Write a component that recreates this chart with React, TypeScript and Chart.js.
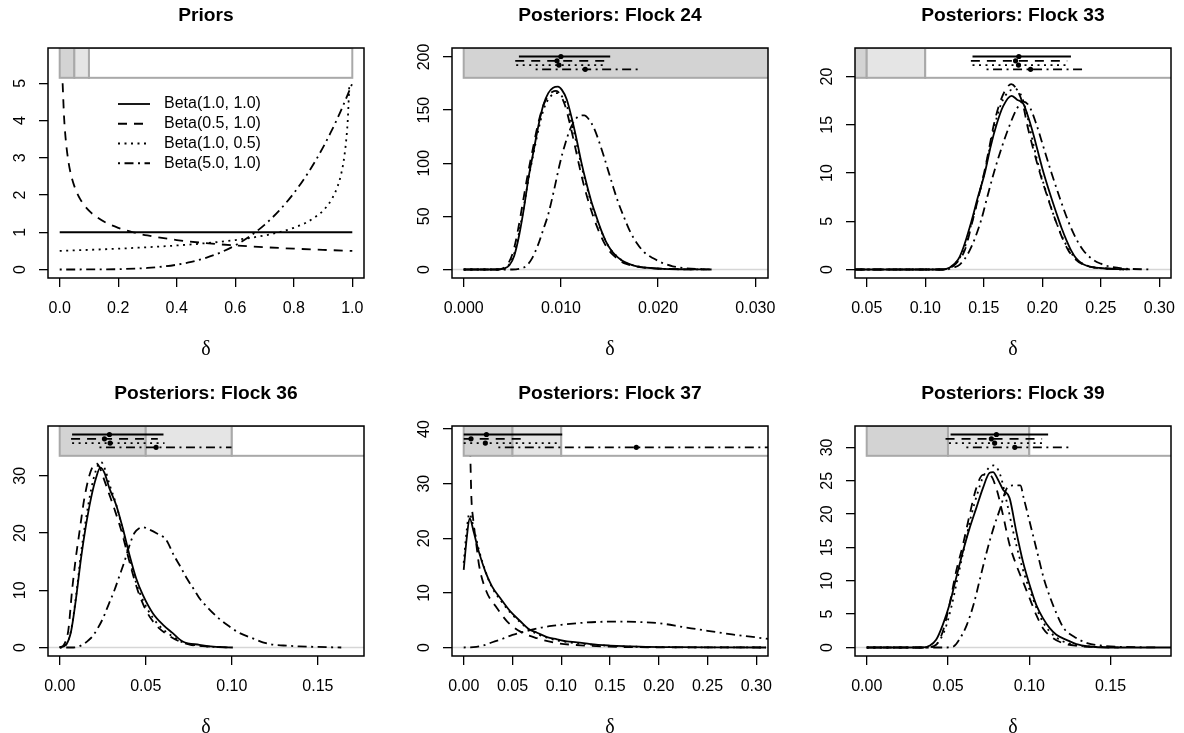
import React, { useEffect, useRef } from 'react';
import { Chart, registerables } from 'chart.js';

Chart.register(...registerables);

// ---------------- tick values & labels ----------------
const PRIOR_XTICKS = [0, 0.2, 0.4, 0.6, 0.8, 1.0];
const PRIOR_XLABELS = ['0.0', '0.2', '0.4', '0.6', '0.8', '1.0'];
const PRIOR_YTICKS = [0, 1, 2, 3, 4, 5];
const PRIOR_YLABELS = ['0', '1', '2', '3', '4', '5'];

const F24_XTICKS = [0, 0.01, 0.02, 0.03];
const F24_XLABELS = ['0.000', '0.010', '0.020', '0.030'];
const F24_YTICKS = [0, 50, 100, 150, 200];
const F24_YLABELS = ['0', '50', '100', '150', '200'];

const F33_XTICKS = [0.05, 0.1, 0.15, 0.2, 0.25, 0.3];
const F33_XLABELS = ['0.05', '0.10', '0.15', '0.20', '0.25', '0.30'];
const F33_YTICKS = [0, 5, 10, 15, 20];
const F33_YLABELS = ['0', '5', '10', '15', '20'];

const F36_XTICKS = [0, 0.05, 0.1, 0.15];
const F36_XLABELS = ['0.00', '0.05', '0.10', '0.15'];
const F36_YTICKS = [0, 10, 20, 30];
const F36_YLABELS = ['0', '10', '20', '30'];

const F37_XTICKS = [0, 0.05, 0.1, 0.15, 0.2, 0.25, 0.3];
const F37_XLABELS = ['0.00', '0.05', '0.10', '0.15', '0.20', '0.25', '0.30'];
const F37_YTICKS = [0, 10, 20, 30, 40];
const F37_YLABELS = ['0', '10', '20', '30', '40'];

const F39_XTICKS = [0, 0.05, 0.1, 0.15];
const F39_XLABELS = ['0.00', '0.05', '0.10', '0.15'];
const F39_YTICKS = [0, 5, 10, 15, 20, 25, 30];
const F39_YLABELS = ['0', '5', '10', '15', '20', '25', '30'];

// ---------------- legend ----------------
const LEGEND_LABELS = ['Beta(1.0, 1.0)', 'Beta(0.5, 1.0)', 'Beta(1.0, 0.5)', 'Beta(5.0, 1.0)'];

// ---------------- prior densities ----------------
const PRIOR_B11 = [[0, 1], [1, 1]];
const PRIOR_B0510 = [[0.01, 5.0], [0.015, 4.08], [0.02, 3.54], [0.03, 2.89], [0.04, 2.5], [0.05, 2.24], [0.07, 1.89], [0.1, 1.58], [0.13, 1.39], [0.16, 1.25], [0.2, 1.12], [0.25, 1.0], [0.3, 0.913], [0.4, 0.791], [0.5, 0.707], [0.6, 0.645], [0.7, 0.598], [0.8, 0.559], [0.9, 0.527], [1.0, 0.5]];
const PRIOR_B1005 = [[0, 0.5], [0.1, 0.527], [0.2, 0.559], [0.3, 0.598], [0.4, 0.645], [0.5, 0.707], [0.6, 0.791], [0.7, 0.913], [0.75, 1.0], [0.8, 1.12], [0.84, 1.25], [0.87, 1.39], [0.9, 1.58], [0.93, 1.89], [0.95, 2.24], [0.96, 2.5], [0.97, 2.89], [0.98, 3.54], [0.985, 4.08], [0.99, 5.0]];
const PRIOR_B5010 = [[0, 0], [0.1, 0.0005], [0.2, 0.008], [0.3, 0.0405], [0.35, 0.075], [0.4, 0.128], [0.45, 0.205], [0.5, 0.3125], [0.55, 0.458], [0.6, 0.648], [0.65, 0.893], [0.7, 1.2], [0.75, 1.582], [0.8, 2.048], [0.85, 2.61], [0.875, 2.93], [0.9, 3.28], [0.925, 3.66], [0.95, 4.07], [0.975, 4.52], [1.0, 5.0]];

// ---------------- Flock 24 ----------------
const F24_SOLID = [[0, 0], [0.0035, 0], [0.0042, 1], [0.0047, 4], [0.0052, 13], [0.0057, 32], [0.0062, 58], [0.0067, 88], [0.0072, 112], [0.0077, 136], [0.0082, 155], [0.0087, 166], [0.0092, 171], [0.0097, 172], [0.0101, 169], [0.0106, 160], [0.0111, 143], [0.0116, 123], [0.0121, 101], [0.0126, 82], [0.0131, 65], [0.0136, 51], [0.0141, 38], [0.0146, 27], [0.0151, 19], [0.0156, 13.5], [0.0162, 9], [0.0168, 6], [0.0175, 3.7], [0.0183, 2.3], [0.0192, 1.4], [0.0205, 0.6], [0.022, 0.2], [0.0235, 0.05], [0.025, 0]];
const F24_DASHED = [[0, 0], [0.0035, 0], [0.0041, 1.5], [0.0046, 6], [0.0051, 17], [0.0056, 38], [0.0061, 64], [0.0066, 90], [0.0071, 113], [0.0076, 135], [0.0081, 152], [0.0086, 162], [0.0091, 167], [0.0095, 168], [0.0099, 165], [0.0104, 155], [0.0109, 138], [0.0114, 118], [0.0119, 97], [0.0124, 78], [0.0129, 62], [0.0134, 48], [0.0139, 36], [0.0144, 26], [0.0149, 18.5], [0.0155, 12.5], [0.0161, 8], [0.0168, 5], [0.0176, 3], [0.0185, 1.8], [0.0195, 1.1], [0.021, 0.5], [0.0225, 0.2], [0.024, 0.06], [0.0258, 0]];
const F24_DOTTED = [[0, 0], [0.0035, 0], [0.0042, 1.2], [0.0047, 5], [0.0052, 15], [0.0057, 35], [0.0062, 60], [0.0067, 87], [0.0072, 110], [0.0077, 132], [0.0082, 150], [0.0087, 160], [0.0092, 165], [0.0097, 166], [0.0101, 163], [0.0106, 154], [0.0111, 138], [0.0116, 119], [0.0121, 98], [0.0126, 80], [0.0131, 63], [0.0136, 49], [0.0141, 37], [0.0146, 27], [0.0151, 19], [0.0157, 13], [0.0163, 8.5], [0.017, 5.2], [0.0178, 3.2], [0.0188, 1.8], [0.02, 0.9], [0.0215, 0.35], [0.0232, 0.08], [0.025, 0]];
const F24_DOTDASH = [[0, 0], [0.005, 0], [0.0058, 0.8], [0.0064, 3], [0.007, 10], [0.0076, 22], [0.0082, 38], [0.0087, 52], [0.0093, 75], [0.0099, 100], [0.0104, 117], [0.0109, 131], [0.0114, 140], [0.0119, 144.5], [0.0124, 145], [0.0129, 141], [0.0134, 133], [0.0139, 121], [0.0144, 107], [0.0149, 92], [0.0154, 77], [0.0159, 63], [0.0165, 49], [0.0171, 36], [0.0178, 25], [0.0186, 16], [0.0195, 10.5], [0.0205, 6], [0.0215, 3], [0.0228, 1.2], [0.0242, 0.35], [0.0255, 0]];
const F24_IV = [[0.00568, 0.01507, 0.01], [0.0053, 0.0146, 0.0096], [0.0054, 0.0147, 0.0098], [0.0074, 0.0182, 0.0125]];

// ---------------- Flock 33 ----------------
const F33_SOLID = [[0, 0], [0.115, 0], [0.121, 0.2], [0.128, 1], [0.1324, 2.2], [0.1395, 5], [0.145, 7.5], [0.1509, 10], [0.156, 12.8], [0.1609, 15], [0.1665, 16.9], [0.1737, 18], [0.1785, 17.6], [0.1837, 17.2], [0.188, 15.8], [0.1922, 14.1], [0.2, 10.5], [0.2065, 7.9], [0.2122, 5.8], [0.2165, 4.3], [0.2208, 3.0], [0.225, 1.9], [0.2293, 1.1], [0.235, 0.55], [0.2407, 0.3], [0.255, 0.1], [0.27, 0]];
const F33_DASHED = [[0, 0], [0.115, 0], [0.121, 0.15], [0.1253, 0.5], [0.1338, 2], [0.1404, 5], [0.1455, 7.5], [0.1503, 10], [0.1545, 12.5], [0.1586, 15], [0.163, 17], [0.1685, 18.6], [0.1735, 19.2], [0.1785, 18.6], [0.1837, 17], [0.1871, 15], [0.1925, 12.4], [0.198, 10], [0.205, 7.3], [0.2116, 5], [0.217, 3.3], [0.2222, 2], [0.228, 1.1], [0.235, 0.5], [0.245, 0.2], [0.255, 0.1], [0.27, 0.03], [0.28, 0]];
const F33_DOTTED = [[0, 0], [0.115, 0], [0.121, 0.2], [0.127, 0.8], [0.1335, 2.2], [0.14, 5], [0.1455, 7.5], [0.1505, 10], [0.155, 12.5], [0.1595, 15], [0.165, 17.2], [0.171, 18.4], [0.177, 18.7], [0.1825, 17.9], [0.187, 16], [0.192, 13.2], [0.198, 10.2], [0.2045, 7.6], [0.211, 5.2], [0.217, 3.4], [0.223, 2.0], [0.229, 1.1], [0.236, 0.5], [0.245, 0.2], [0.26, 0.05], [0.275, 0]];
const F33_DOTDASH = [[0, 0], [0.118, 0], [0.124, 0.2], [0.1295, 0.5], [0.1381, 2], [0.1475, 5], [0.153, 7.5], [0.1586, 10], [0.1655, 12.7], [0.1723, 15], [0.178, 16.6], [0.1837, 17.4], [0.189, 16.9], [0.1951, 15], [0.2015, 12.5], [0.2079, 10], [0.215, 7.4], [0.2222, 5], [0.2285, 3.3], [0.235, 2], [0.2436, 1], [0.25, 0.6], [0.2578, 0.3], [0.27, 0.1], [0.2934, 0]];
const F33_IV = [[0.1404, 0.2245, 0.18], [0.139, 0.2213, 0.1772], [0.1404, 0.222, 0.1797], [0.1524, 0.235, 0.19]];

// ---------------- Flock 36 ----------------
const F36_SOLID = [[0, 0], [0.0037, 0.5], [0.0066, 2.8], [0.0095, 8.6], [0.0124, 15.6], [0.0153, 21.4], [0.0182, 26.1], [0.0211, 29.6], [0.0236, 31.4], [0.026, 30.5], [0.0289, 27.8], [0.0328, 24.9], [0.0366, 20.9], [0.0405, 16.2], [0.0444, 12.1], [0.0483, 9.2], [0.0541, 6.0], [0.0599, 4.0], [0.0657, 2.5], [0.0715, 1.05], [0.0812, 0.47], [0.0909, 0.12], [0.1006, 0]];
const F36_DASHED = [[0, 0], [0.0025, 0.5], [0.005, 3], [0.0072, 10], [0.0093, 15.5], [0.0114, 20], [0.0143, 26], [0.0172, 30], [0.0195, 31.8], [0.0211, 32.2], [0.023, 31.6], [0.025, 30], [0.0285, 27], [0.032, 24], [0.0362, 20], [0.0405, 15], [0.0453, 10], [0.049, 7.2], [0.0531, 5], [0.058, 3.3], [0.0638, 2], [0.07, 1], [0.0754, 0.5], [0.085, 0.2], [0.1, 0]];
const F36_DOTTED = [[0, 0], [0.0037, 0.5], [0.0066, 3], [0.0095, 9], [0.0124, 16.5], [0.0153, 22.5], [0.0182, 27.5], [0.0211, 31], [0.024, 32.4], [0.0265, 31], [0.0289, 28.5], [0.0328, 25], [0.0366, 20.5], [0.0405, 15.5], [0.0444, 11.3], [0.0483, 8.3], [0.0541, 5.2], [0.0599, 3.2], [0.0657, 1.9], [0.0715, 0.9], [0.08, 0.35], [0.09, 0.1], [0.1, 0]];
const F36_DOTDASH = [[0, 0], [0.008, 0], [0.0134, 0.5], [0.0165, 1.2], [0.0192, 2], [0.022, 3.3], [0.025, 5], [0.0284, 7.5], [0.0318, 10], [0.0347, 12.5], [0.0376, 15], [0.0405, 17.8], [0.0434, 20], [0.046, 20.8], [0.0483, 21], [0.052, 20.6], [0.056, 20], [0.0618, 18.8], [0.0665, 16], [0.0696, 14.4], [0.074, 12], [0.0783, 10], [0.0812, 8.6], [0.0865, 6.8], [0.092, 5.2], [0.097, 4], [0.104, 2.6], [0.1122, 1.6], [0.118, 0.9], [0.1238, 0.5], [0.13, 0.35], [0.139, 0.2], [0.15, 0.1], [0.1636, 0]];
const F36_IV = [[0.0072, 0.0603, 0.0289], [0.0066, 0.057, 0.026], [0.0072, 0.0609, 0.0293], [0.0231, 0.0998, 0.056]];

// ---------------- Flock 37 ----------------
const F37_SOLID = [[0, 14.2], [0.0031, 20], [0.0061, 23.7], [0.0102, 21.2], [0.0154, 17.6], [0.0222, 13.9], [0.029, 11.2], [0.0376, 9.0], [0.0478, 6.6], [0.0581, 4.8], [0.0666, 3.4], [0.0752, 2.7], [0.0854, 1.9], [0.0957, 1.5], [0.1059, 1.1], [0.1162, 0.95], [0.13, 0.6], [0.15, 0.35], [0.18, 0.15], [0.22, 0.05], [0.26, 0.02], [0.31, 0]];
const F37_DASHED = [[0.004, 60], [0.0055, 45], [0.0068, 35], [0.0079, 27.4], [0.0096, 23.7], [0.013, 18.8], [0.0157, 15.1], [0.0232, 10.3], [0.0342, 7.2], [0.0444, 4.8], [0.0581, 2.9], [0.0752, 1.7], [0.0957, 0.8], [0.12, 0.4], [0.15, 0.15], [0.2, 0.03], [0.31, 0]];
const F37_DOTTED = [[0, 15.5], [0.0031, 21.5], [0.0058, 24.5], [0.0095, 22.5], [0.0154, 18], [0.0222, 14], [0.029, 11], [0.0376, 8.7], [0.0478, 6.4], [0.0581, 4.6], [0.0666, 3.3], [0.0752, 2.5], [0.0854, 1.8], [0.0957, 1.3], [0.11, 0.9], [0.13, 0.55], [0.15, 0.3], [0.18, 0.12], [0.22, 0.04], [0.31, 0]];
const F37_DOTDASH = [[0, 0], [0.01, 0.05], [0.02, 0.35], [0.03, 1.0], [0.04, 1.6], [0.05, 2.3], [0.06, 2.8], [0.07, 3.25], [0.08, 3.65], [0.09, 3.95], [0.1, 4.15], [0.12, 4.5], [0.14, 4.7], [0.16, 4.75], [0.18, 4.65], [0.2, 4.45], [0.225, 3.75], [0.25, 3.05], [0.275, 2.4], [0.3, 1.85], [0.315, 1.5]];
const F37_IV = [[0, 0.101, 0.0233], [0, 0.0643, 0.0075], [0, 0.099, 0.0222], [0.0355, 0.35, 0.177]];

// ---------------- Flock 39 ----------------
const F39_SOLID = [[0, 0], [0.0345, 0], [0.0386, 0.25], [0.0427, 1.15], [0.0468, 3.4], [0.0509, 6.4], [0.055, 10.4], [0.0592, 14.4], [0.0633, 17.9], [0.0674, 20.9], [0.0715, 23.9], [0.0756, 26.2], [0.0777, 26.3], [0.0807, 25.2], [0.0838, 23.7], [0.0879, 22.4], [0.092, 17.4], [0.0961, 12.9], [0.1002, 9.4], [0.1043, 6.4], [0.1084, 4.4], [0.1126, 2.9], [0.1167, 1.9], [0.1229, 1.15], [0.129, 0.5], [0.1372, 0.15], [0.1475, 0], [0.188, 0]];
const F39_DASHED = [[0, 0], [0.0366, 0], [0.0427, 0.4], [0.0468, 2.4], [0.0509, 6.4], [0.055, 11.4], [0.0592, 15.4], [0.0633, 19.9], [0.0674, 23.9], [0.0715, 25.9], [0.0756, 25.9], [0.0797, 23.9], [0.0838, 19.9], [0.0879, 15.4], [0.092, 12.4], [0.0961, 9.9], [0.1002, 7.4], [0.1043, 4.9], [0.1084, 2.9], [0.1146, 1.4], [0.1207, 0.65], [0.129, 0.25], [0.14, 0.08], [0.155, 0]];
const F39_DOTTED = [[0, 0], [0.037, 0], [0.043, 0.5], [0.048, 2.6], [0.052, 6], [0.056, 10.5], [0.06, 15], [0.064, 19.5], [0.068, 23], [0.072, 25.8], [0.0781, 27.3], [0.082, 26], [0.086, 22], [0.09, 17.5], [0.094, 13.5], [0.098, 10.2], [0.102, 7.5], [0.106, 5], [0.11, 3.2], [0.115, 1.8], [0.12, 1], [0.128, 0.4], [0.14, 0.1], [0.155, 0]];
const F39_DOTDASH = [[0, 0], [0.0493, 0], [0.0534, 0.15], [0.0575, 1.4], [0.0616, 3.4], [0.0657, 6.4], [0.0698, 10.4], [0.0739, 14.4], [0.078, 17.9], [0.0822, 20.9], [0.0863, 23.9], [0.0904, 24.3], [0.0945, 24.3], [0.0966, 22.4], [0.1007, 18.4], [0.1048, 14.4], [0.1089, 10.4], [0.113, 7.4], [0.1171, 4.9], [0.1212, 2.9], [0.1274, 1.65], [0.1356, 0.65], [0.1459, 0.25], [0.156, 0.1], [0.18, 0]];
const F39_IV = [[0.0516, 0.1116, 0.0798], [0.0485, 0.1079, 0.0767], [0.0506, 0.1085, 0.0787], [0.0613, 0.126, 0.0911]];

// ---------------- region shading of the interval strip ----------------
const REGION_BREAKS = [0, 0.05, 0.1, 1];
const REGION_FILLS = ['#D3D3D3', '#E5E5E5', '#FFFFFF'];
const IV_LEVELS = [1, 0.98, 0.96, 0.94];

// ---------------- styling ----------------
const FONT = "'Liberation Sans', Arial, Helvetica, sans-serif";
const SERIF = "'Liberation Serif', 'DejaVu Serif', serif";
const LW = 1.8;
const LTYS: number[][] = [[], [9, 7], [2, 4.5], [2, 4.5, 9, 4.5]];
const TICK_LEN = 9;
const YAXIS_W = 50;
const RIGHT_PAD = 50;
const BOX_W = 316;
const BOX_H = 230;
const TITLE_H = 48;
const XAXIS_H = 90;
const CW = YAXIS_W + BOX_W + RIGHT_PAD;
const CH = TITLE_H + BOX_H + XAXIS_H;
const Y_LABEL_OFFSET = 27.5;

interface Panel {
  title: string;
  boxLeft: number;
  boxTop: number;
  xlim: [number, number];
  ymax: number;
  xticks: number[];
  xlabels: string[];
  yticks: number[];
  ylabels: string[];
  curves: number[][][];
  intervals: number[][] | null;
  zeroLine: boolean;
  legend: boolean;
}

const COL_LEFT = [48, 452, 855];
const ROW_TOP = [48, 426];

const PANELS: Panel[] = [
  { title: 'Priors', boxLeft: COL_LEFT[0], boxTop: ROW_TOP[0], xlim: [0, 1], ymax: 5.72, xticks: PRIOR_XTICKS, xlabels: PRIOR_XLABELS, yticks: PRIOR_YTICKS, ylabels: PRIOR_YLABELS, curves: [PRIOR_B11, PRIOR_B0510, PRIOR_B1005, PRIOR_B5010], intervals: null, zeroLine: false, legend: true },
  { title: 'Posteriors: Flock 24', boxLeft: COL_LEFT[1], boxTop: ROW_TOP[0], xlim: [0, 0.0301], ymax: 200.4, xticks: F24_XTICKS, xlabels: F24_XLABELS, yticks: F24_YTICKS, ylabels: F24_YLABELS, curves: [F24_SOLID, F24_DASHED, F24_DOTTED, F24_DOTDASH], intervals: F24_IV, zeroLine: true, legend: false },
  { title: 'Posteriors: Flock 33', boxLeft: COL_LEFT[2], boxTop: ROW_TOP[0], xlim: [0.05, 0.3], ymax: 22.07, xticks: F33_XTICKS, xlabels: F33_XLABELS, yticks: F33_YTICKS, ylabels: F33_YLABELS, curves: [F33_SOLID, F33_DASHED, F33_DOTTED, F33_DOTDASH], intervals: F33_IV, zeroLine: true, legend: false },
  { title: 'Posteriors: Flock 36', boxLeft: COL_LEFT[0], boxTop: ROW_TOP[1], xlim: [0, 0.17], ymax: 37.2, xticks: F36_XTICKS, xlabels: F36_XLABELS, yticks: F36_YTICKS, ylabels: F36_YLABELS, curves: [F36_SOLID, F36_DASHED, F36_DOTTED, F36_DOTDASH], intervals: F36_IV, zeroLine: true, legend: false },
  { title: 'Posteriors: Flock 37', boxLeft: COL_LEFT[1], boxTop: ROW_TOP[1], xlim: [0, 0.3], ymax: 39.0, xticks: F37_XTICKS, xlabels: F37_XLABELS, yticks: F37_YTICKS, ylabels: F37_YLABELS, curves: [F37_SOLID, F37_DASHED, F37_DOTTED, F37_DOTDASH], intervals: F37_IV, zeroLine: true, legend: false },
  { title: 'Posteriors: Flock 39', boxLeft: COL_LEFT[2], boxTop: ROW_TOP[1], xlim: [0, 0.18], ymax: 31.94, xticks: F39_XTICKS, xlabels: F39_XLABELS, yticks: F39_YTICKS, ylabels: F39_YLABELS, curves: [F39_SOLID, F39_DASHED, F39_DOTTED, F39_DOTDASH], intervals: F39_IV, zeroLine: true, legend: false },
];

function buildChart(canvas: HTMLCanvasElement, p: Panel): Chart {
  const xr = p.xlim[1] - p.xlim[0];
  const xMin = p.xlim[0] - 0.04 * xr;
  const xMax = p.xlim[1] + 0.04 * xr;
  const yMin = -0.04 * p.ymax;
  const yMax = 1.04 * p.ymax;

  const datasets: any[] = [];
  (p.intervals || []).forEach((iv, k) => {
    const yv = p.ymax * IV_LEVELS[k];
    datasets.push({
      data: [{ x: iv[0], y: yv }, { x: iv[2], y: yv }, { x: iv[1], y: yv }],
      showLine: true,
      borderColor: '#000',
      borderWidth: LW,
      borderDash: LTYS[k],
      pointRadius: [0, 2.6, 0],
      pointBackgroundColor: '#000',
      pointBorderColor: '#000',
      pointBorderWidth: 0,
      tension: 0,
    });
  });
  const firstCurve = datasets.length;
  p.curves.forEach((c, k) => {
    datasets.push({
      data: c.map(([x, y]) => ({ x, y })),
      showLine: true,
      borderColor: '#000',
      borderWidth: LW,
      borderDash: LTYS[k],
      pointRadius: 0,
      cubicInterpolationMode: 'monotone',
      fill: false,
    });
  });
  if (p.zeroLine) {
    datasets.push({
      data: [{ x: xMin, y: 0 }, { x: xMax, y: 0 }],
      showLine: true,
      borderColor: '#D6D6D6',
      borderWidth: 1.6,
      pointRadius: 0,
      tension: 0,
    });
  }

  const mctx = document.createElement('canvas').getContext('2d')!;
  mctx.font = `16px ${FONT}`;
  const widest = Math.max(...p.ylabels.map((l) => mctx.measureText(l).width));
  const yPad = Y_LABEL_OFFSET - TICK_LEN - widest / 2;

  const deco = {
    id: 'deco',
    afterDatasetDraw(chart: any, args: any) {
      if (args.index !== firstCurve) return;
      const { ctx, chartArea: a, scales } = chart;
      const xs = scales.x;
      const ys = scales.y;
      ctx.save();
      ctx.beginPath();
      ctx.rect(a.left, a.top, a.right - a.left, a.bottom - a.top);
      ctx.clip();
      const yb = ys.getPixelForValue(0.9 * p.ymax);
      const yt = ys.getPixelForValue(yMax);
      for (let i = 0; i < REGION_FILLS.length; i++) {
        const x0 = xs.getPixelForValue(REGION_BREAKS[i]);
        const x1 = xs.getPixelForValue(REGION_BREAKS[i + 1]);
        ctx.fillStyle = REGION_FILLS[i];
        ctx.fillRect(x0, yt, x1 - x0, yb - yt);
        ctx.strokeStyle = '#A9A9A9';
        ctx.lineWidth = 2;
        ctx.setLineDash([]);
        ctx.strokeRect(x0, yt, x1 - x0, yb - yt);
      }
      ctx.restore();
    },
    afterDraw(chart: any) {
      const { ctx, chartArea: a } = chart;
      ctx.save();
      ctx.strokeStyle = '#000';
      ctx.lineWidth = 1.5;
      ctx.setLineDash([]);
      ctx.strokeRect(a.left, a.top, a.right - a.left, a.bottom - a.top);
      if (p.legend) {
        ctx.font = `16px ${FONT}`;
        ctx.fillStyle = '#000';
        ctx.textBaseline = 'middle';
        ctx.textAlign = 'left';
        LEGEND_LABELS.forEach((lab, k) => {
          const yy = a.top + 56 + k * 19.75;
          ctx.beginPath();
          ctx.setLineDash(LTYS[k]);
          ctx.lineWidth = LW;
          ctx.moveTo(a.left + 70, yy);
          ctx.lineTo(a.left + 102, yy);
          ctx.stroke();
          ctx.setLineDash([]);
          ctx.fillText(lab, a.left + 116, yy);
        });
      }
      ctx.restore();
    },
  };

  const tickFont = { family: FONT, size: 16 };

  return new Chart(canvas, {
    type: 'scatter',
    data: { datasets },
    plugins: [deco],
    options: {
      animation: false,
      responsive: false,
      maintainAspectRatio: false,
      events: [],
      layout: { padding: { left: 0, right: RIGHT_PAD, top: 0, bottom: 0 } },
      elements: { line: { capBezierPoints: false } },
      plugins: {
        legend: { display: false },
        tooltip: { enabled: false },
        title: {
          display: true,
          text: p.title,
          fullSize: false,
          color: '#000',
          font: { family: FONT, size: 19.2, weight: 'bold', lineHeight: 1.2 },
          padding: { top: 4.5, bottom: TITLE_H - 4.5 - 23.04 },
        },
      },
      scales: {
        x: {
          type: 'linear',
          position: 'bottom',
          min: xMin,
          max: xMax,
          afterBuildTicks: (s: any) => {
            s.ticks = p.xticks.map((v) => ({ value: v }));
          },
          afterFit: (s: any) => {
            s.height = XAXIS_H;
          },
          grid: { display: true, drawOnChartArea: false, drawTicks: true, tickLength: TICK_LEN, color: '#000', lineWidth: 1.3 },
          border: { display: false },
          ticks: {
            autoSkip: false,
            maxRotation: 0,
            minRotation: 0,
            padding: 11.7,
            color: '#000',
            font: tickFont,
            callback: (_v: any, i: number) => p.xlabels[i],
          },
          title: {
            display: true,
            text: 'δ',
            color: '#000',
            font: { family: SERIF, size: 20, lineHeight: 1.2 },
            padding: { top: 0, bottom: 6 },
          },
        },
        y: {
          type: 'linear',
          position: 'left',
          min: yMin,
          max: yMax,
          afterBuildTicks: (s: any) => {
            s.ticks = p.yticks.map((v) => ({ value: v }));
          },
          afterFit: (s: any) => {
            s.width = YAXIS_W;
          },
          grid: { display: true, drawOnChartArea: false, drawTicks: true, tickLength: TICK_LEN, color: '#000', lineWidth: 1.3 },
          border: { display: false },
          ticks: {
            autoSkip: false,
            minRotation: 90,
            maxRotation: 90,
            crossAlign: 'center',
            padding: yPad,
            color: '#000',
            font: tickFont,
            callback: (_v: any, i: number) => p.ylabels[i],
          },
        },
      },
    } as any,
  });
}

export default function App() {
  const refs = useRef<(HTMLCanvasElement | null)[]>([]);
  useEffect(() => {
    const charts = PANELS.map((p, i) => buildChart(refs.current[i] as HTMLCanvasElement, p));
    return () => charts.forEach((c) => c.destroy());
  }, []);
  return (
    <div style={{ position: 'absolute', left: 0, top: 0, width: 1184, height: 733, overflow: 'hidden', background: '#fff' }}>
      {PANELS.map((p, i) => (
        <canvas
          key={i}
          ref={(el) => {
            refs.current[i] = el;
          }}
          width={CW}
          height={CH}
          style={{ position: 'absolute', left: p.boxLeft - YAXIS_W, top: p.boxTop - TITLE_H, width: CW, height: CH }}
        />
      ))}
    </div>
  );
}
